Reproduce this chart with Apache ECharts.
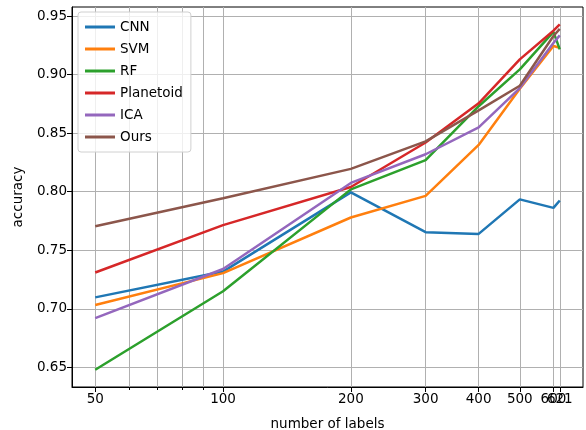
<!DOCTYPE html>
<html>
<head>
<meta charset="utf-8"/>
<title>accuracy vs number of labels</title>
<script src="https://cdn.jsdelivr.net/npm/echarts@6/dist/echarts.min.js"></script>
<style>
  html, body { margin: 0; padding: 0; background: #fff; }
  #main { width: 586px; height: 430px; }
</style>
</head>
<body>
<div id="main"></div>
<script>
// number of labels (x, log scale)
var labels = [50, 100, 200, 300, 400, 500, 600, 621];
var majorTicks = [50, 100, 200, 300, 400, 500, 600, 621];
var minorTicks = [60, 70, 80, 90];
var yTicks = [0.65, 0.70, 0.75, 0.80, 0.85, 0.90, 0.95];

var cnn       = [0.7098, 0.7318, 0.7995, 0.7655, 0.7640, 0.7935, 0.7862, 0.7925];
var svm       = [0.7033, 0.7305, 0.7780, 0.7965, 0.8400, 0.8880, 0.9245, 0.9230];
var rf        = [0.6480, 0.7150, 0.8020, 0.8270, 0.8730, 0.9045, 0.9365, 0.9215];
var planetoid = [0.7310, 0.7715, 0.8040, 0.8420, 0.8755, 0.9130, 0.9375, 0.9430];
var ica       = [0.6920, 0.7340, 0.8075, 0.8320, 0.8550, 0.8885, 0.9270, 0.9335];
var ours      = [0.7705, 0.7945, 0.8195, 0.8430, 0.8695, 0.8905, 0.9330, 0.9390];

var names  = ['CNN', 'SVM', 'RF', 'Planetoid', 'ICA', 'Ours'];
var values = [cnn, svm, rf, planetoid, ica, ours];
var colors = ['#1f77b4', '#ff7f0e', '#2ca02c', '#d62728', '#9467bd', '#8c564b'];

function lg(v) { return Math.log10(v); }

// matplotlib style 5% margins (log space on x)
var x0 = lg(labels[0]), x1 = lg(labels[labels.length - 1]);
var xMin = x0 - (x1 - x0) * 0.05, xMax = x1 + (x1 - x0) * 0.05;
var all = [].concat.apply([], values);
var yLo = Math.min.apply(null, all), yHi = Math.max.apply(null, all);
var yMin = yLo - (yHi - yLo) * 0.05, yMax = yHi + (yHi - yLo) * 0.05;

var font = 'DejaVu Sans';

// 600 and 621 overlap, so the 600 label goes on the second (minor) axis,
// otherwise echarts drops one of them
var labelsA = majorTicks.filter(function (t) { return t !== 600; });
var labelsB = [600];

function fmt(v) { return String(Math.round(Math.pow(10, v))); }

var series = names.map(function (n, i) {
  return {
    name: n,
    type: 'line',
    xAxisIndex: 0,
    symbol: 'none',
    smooth: false,
    color: colors[i],
    lineStyle: { width: 2.5, color: colors[i] },
    data: labels.map(function (l, j) { return [lg(l), values[i][j]]; })
  };
});

var myChart = echarts.init(document.getElementById('main'));
var option = {
  backgroundColor: '#fff',
  animation: false,
  grid: {
    left: 72, right: 3, top: 7, bottom: 43,
    outerBoundsMode: 'none',
    containLabel: false,
    show: true, borderColor: '#000', borderWidth: 1
  },
  legend: {
    orient: 'vertical',
    left: 78, top: 12,
    padding: [7, 8, 7, 7],
    itemGap: 6,
    itemWidth: 30,
    itemHeight: 3,
    icon: 'rect',
    backgroundColor: 'rgba(255,255,255,0.8)',
    borderColor: '#d0d0d0',
    borderWidth: 1,
    borderRadius: 3,
    textStyle: { fontFamily: font, fontSize: 13.5, color: '#000', lineHeight: 16 },
    data: names
  },
  xAxis: [{
    type: 'value',
    min: xMin, max: xMax,
    name: 'number of labels',
    nameLocation: 'middle',
    nameGap: 30,
    nameMoveOverlap: false,
    nameTextStyle: { fontFamily: font, fontSize: 13.5, color: '#000' },
    axisLine: { show: true, lineStyle: { color: '#000', width: 1 } },
    axisTick: { show: true, length: 5, lineStyle: { color: '#000' },
      customValues: majorTicks.map(lg) },
    axisLabel: { show: true, margin: 5, fontFamily: font, fontSize: 13.5, color: '#000',
      hideOverlap: false, showMinLabel: true, showMaxLabel: true,
      customValues: labelsA.map(lg),
      formatter: fmt },
    splitLine: { show: true, lineStyle: { color: '#b0b0b0', width: 1 } }
  }, {
    type: 'value',
    position: 'bottom',
    min: xMin, max: xMax,
    axisLine: { show: false },
    axisTick: { show: true, length: 3, lineStyle: { color: '#000' },
      customValues: minorTicks.map(lg) },
    axisLabel: { show: true, margin: 5, fontFamily: font, fontSize: 13.5, color: '#000',
      hideOverlap: false, showMinLabel: true, showMaxLabel: true,
      customValues: labelsB.map(lg),
      formatter: fmt },
    splitLine: { show: true, lineStyle: { color: '#b0b0b0', width: 1 } }
  }],
  yAxis: {
    type: 'value',
    min: yMin, max: yMax,
    name: 'accuracy',
    nameLocation: 'middle',
    nameGap: 47,
    nameMoveOverlap: false,
    nameTextStyle: { fontFamily: font, fontSize: 13.5, color: '#000' },
    axisLine: { show: true, lineStyle: { color: '#000', width: 1 } },
    axisTick: { show: true, length: 5, lineStyle: { color: '#000' }, customValues: yTicks },
    axisLabel: { show: true, margin: 5, fontFamily: font, fontSize: 13.5, color: '#000',
      customValues: yTicks,
      formatter: function (v) { return v.toFixed(2); } },
    splitLine: { show: true, lineStyle: { color: '#b0b0b0', width: 1 } }
  },
  series: series
};
myChart.setOption(option);
</script>
</body>
</html>
